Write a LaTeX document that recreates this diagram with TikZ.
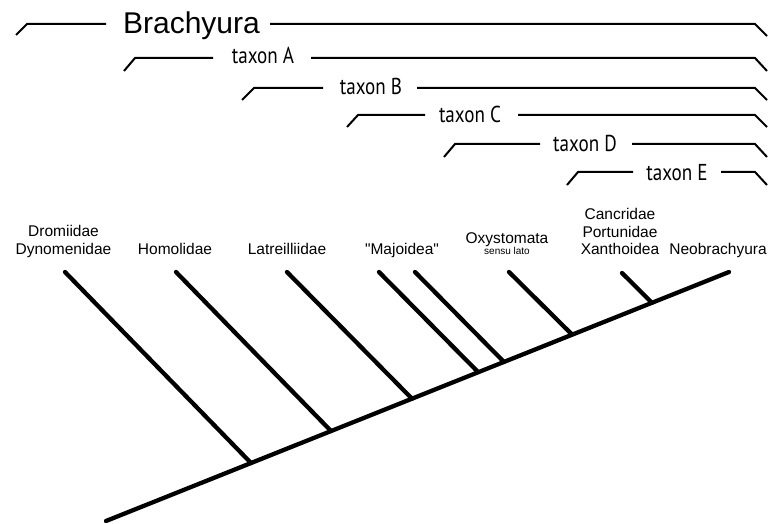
\documentclass[tikz,border=0pt]{standalone}
\usepackage{fontspec}
\setmainfont{Liberation Sans}
\newfontfamily\qfont{Liberation Sans}[Ligatures=TeXOff]
\newfontfamily\brfont[FakeStretch=0.83]{PT Sans}
\begin{document}
\begin{tikzpicture}[x=1bp,y=-1bp,
  bracket/.style={line width=2bp},
  branch/.style={line width=4.3bp,line cap=round},
  brlabel/.style={inner sep=0pt,anchor=base,font=\brfont\fontsize{23bp}{26bp}\selectfont},
  bigbrlabel/.style={inner sep=0pt,anchor=base,font=\fontsize{30bp}{34bp}\selectfont},
  taxlabel/.style={inner sep=0pt,anchor=base,font=\fontsize{15.5bp}{18bp}\selectfont},
  smalllabel/.style={inner sep=0pt,anchor=base,font=\fontsize{10bp}{12bp}\selectfont}]
\useasboundingbox (0,0) rectangle (781,524);

% ---- brackets ----
\node[bigbrlabel] (brach) at (191.5,34) {Brachyura};
\coordinate (b0a) at (16,35); \coordinate (b0b) at (27,24); \coordinate (b0c) at (106,24);
\coordinate (b0d) at (270,24); \coordinate (b0e) at (755,24); \coordinate (b0f) at (767,36);
\draw[bracket] (b0a) -- (b0b) -- (b0c);
\draw[bracket] (b0d) -- (b0e) -- (b0f);

\node[brlabel] (taxA) at (263,64) {taxon A};
\coordinate (bAa) at (124,71); \coordinate (bAb) at (135,58); \coordinate (bAc) at (213,58);
\coordinate (bAd) at (311,58); \coordinate (bAe) at (755,58); \coordinate (bAf) at (767,71);
\draw[bracket] (bAa) -- (bAb) -- (bAc);
\draw[bracket] (bAd) -- (bAe) -- (bAf);

\node[brlabel] (taxB) at (371,95) {taxon B};
\coordinate (bBa) at (242,100); \coordinate (bBb) at (254,88); \coordinate (bBc) at (323,88);
\coordinate (bBd) at (417,88); \coordinate (bBe) at (755,88); \coordinate (bBf) at (767,100);
\draw[bracket] (bBa) -- (bBb) -- (bBc);
\draw[bracket] (bBd) -- (bBe) -- (bBf);

\node[brlabel] (taxC) at (470,122.5) {taxon C};
\coordinate (bCa) at (347,127); \coordinate (bCb) at (358,115); \coordinate (bCc) at (425,115);
\coordinate (bCd) at (518,115); \coordinate (bCe) at (755,115); \coordinate (bCf) at (767,127);
\draw[bracket] (bCa) -- (bCb) -- (bCc);
\draw[bracket] (bCd) -- (bCe) -- (bCf);

\node[brlabel] (taxD) at (585,152) {taxon D};
\coordinate (bDa) at (444,157); \coordinate (bDb) at (455,144); \coordinate (bDc) at (540,144);
\coordinate (bDd) at (632,144); \coordinate (bDe) at (755,144); \coordinate (bDf) at (767,157);
\draw[bracket] (bDa) -- (bDb) -- (bDc);
\draw[bracket] (bDd) -- (bDe) -- (bDf);

\node[brlabel] (taxE) at (677,180.5) {taxon E};
\coordinate (bEa) at (567,185); \coordinate (bEb) at (578,172); \coordinate (bEc) at (633,172);
\coordinate (bEd) at (721,172); \coordinate (bEe) at (755,172); \coordinate (bEf) at (767,185);
\draw[bracket] (bEa) -- (bEb) -- (bEc);
\draw[bracket] (bEd) -- (bEe) -- (bEf);

% ---- labels ----
\node[taxlabel] (dro1) at (63.5,237) {Dromiidae};
\node[taxlabel] (dro2) at (63.5,255) {Dynomenidae};
\node[taxlabel] (hom) at (175,255) {Homolidae};
\node[taxlabel] (lat) at (287,255) {Latreilliidae};
\node[taxlabel] (maj) at (402,255) {\qfont "Majoidea"};
\node[taxlabel] (oxy) at (507,244) {Oxystomata};
\node[smalllabel] (sen) at (507,255) {sensu lato};
\node[taxlabel] (can1) at (620,220) {Cancridae};
\node[taxlabel] (can2) at (620,238) {Portunidae};
\node[taxlabel] (can3) at (620,255) {Xanthoidea};
\node[taxlabel] (neo) at (718,255) {Neobrachyura};

% ---- tree ----
\coordinate (root) at (106,521);
\coordinate (tip) at (729,272);
\coordinate (tdro) at (65,272);  \coordinate (ndro) at (251,463);
\coordinate (thom) at (176,272); \coordinate (nhom) at (331,431);
\coordinate (tlat) at (287,272); \coordinate (nlat) at (412,398.7);
\coordinate (tmj1) at (379,272); \coordinate (nmj1) at (478,372);
\coordinate (tmj2) at (415,272); \coordinate (nmj2) at (504,362);
\coordinate (toxy) at (509,272); \coordinate (noxy) at (572,334.5);
\coordinate (tcan) at (622,273); \coordinate (ncan) at (652,302.8);

\draw[branch] (root) -- (tip);
\draw[branch] (tdro) -- (ndro);
\draw[branch] (thom) -- (nhom);
\draw[branch] (tlat) -- (nlat);
\draw[branch] (tmj1) -- (nmj1);
\draw[branch] (tmj2) -- (nmj2);
\draw[branch] (toxy) -- (noxy);
\draw[branch] (tcan) -- (ncan);
\end{tikzpicture}
\end{document}
